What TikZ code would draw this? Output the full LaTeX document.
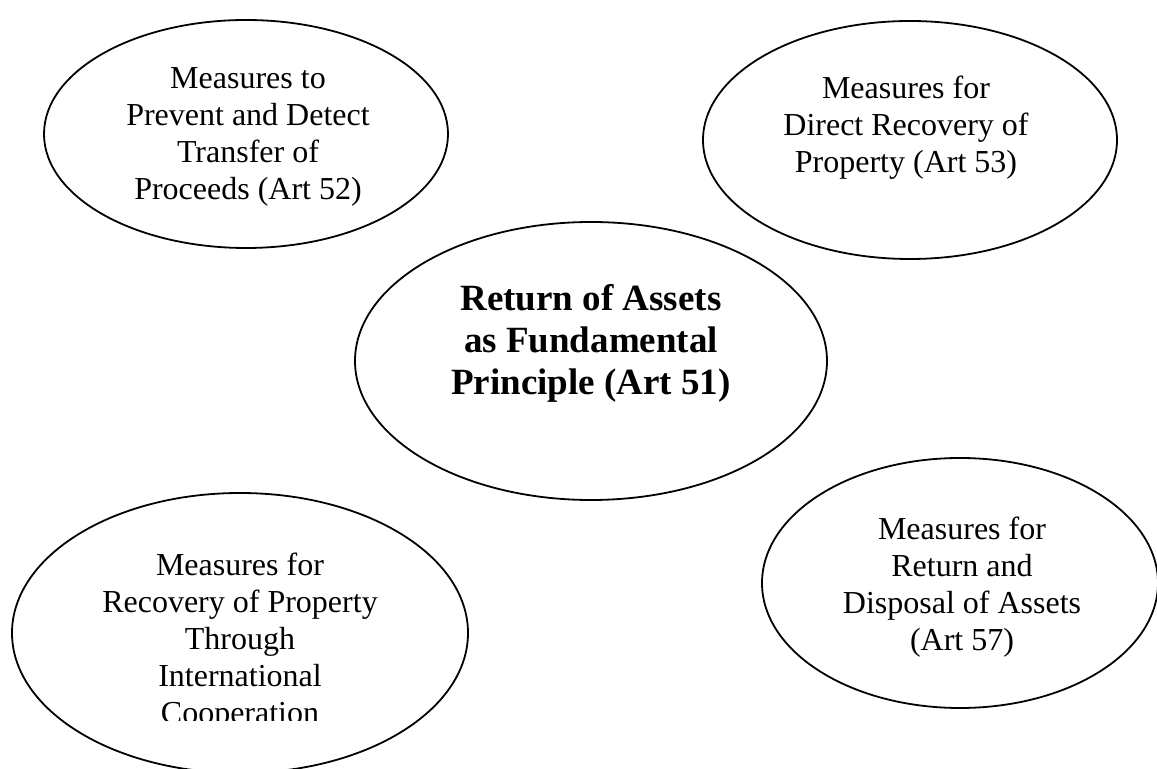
\documentclass[tikz,border=0pt]{standalone}
\usepackage{fontspec}
\setmainfont{Liberation Serif}
\usetikzlibrary{shapes.geometric}

\begin{document}
\begin{tikzpicture}[x=0.5pt, y=-0.5pt,
    oval/.style={draw, ellipse, line width=0.9pt, inner sep=0pt},
    ovaltext/.style={align=center, inner sep=0pt, font=\fontsize{16}{18.5}\selectfont},
    keytext/.style={align=center, inner sep=0pt, font=\fontsize{18.5}{21}\selectfont\bfseries}]
  \useasboundingbox (0,0) rectangle (1157,769);
  \clip (0,0) rectangle (1157,769);

  % the five ovals
  \node[oval, minimum width=202pt, minimum height=114pt] (art52) at (246,134) {};
  \node[oval, minimum width=207pt, minimum height=119pt] (art53) at (910,140) {};
  \node[oval, minimum width=236pt, minimum height=139pt] (art51) at (591,361) {};
  \node[oval, minimum width=228pt, minimum height=140pt] (coop)  at (240,633) {};
  \node[oval, minimum width=198pt, minimum height=125pt] (art57) at (960,583) {};

  % their texts
  \node[ovaltext] (art52txt) at (248,136.5) {Measures to\\Prevent and Detect\\Transfer of\\Proceeds (Art 52)};
  \node[ovaltext] (art53txt) at (906,127.5) {Measures for\\Direct Recovery of\\Property (Art 53)};
  \node[keytext]  (art51txt) at (591,343)   {Return of Assets\\as Fundamental\\Principle (Art 51)};
  \node[ovaltext] (art57txt) at (962,587)   {Measures for\\Return and\\Disposal of Assets\\(Art 57)};
  \begin{scope}
    \clip (0,0) rectangle (1157,721);
    \node[ovaltext] (cooptxt) at (240,641.5) {Measures for\\Recovery of Property\\Through\\International\\Cooperation};
  \end{scope}
\end{tikzpicture}
\end{document}
